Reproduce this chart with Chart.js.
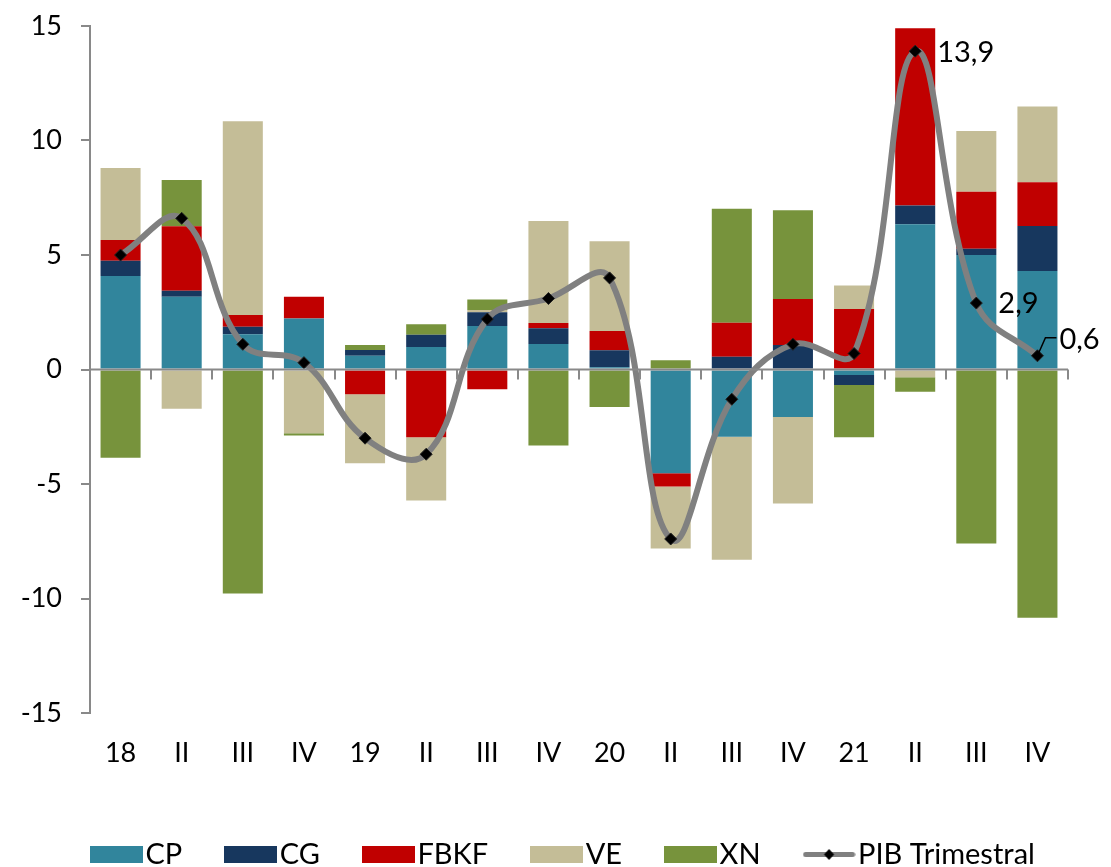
<!DOCTYPE html>
<html>
<head>
<meta charset="utf-8">
<script src="https://cdn.jsdelivr.net/npm/chart.js@4"></script>
<style>
  html, body { margin: 0; padding: 0; background: #fff; overflow: hidden; }
  #wrap { width: 1111px; height: 880px; position: relative; }
</style>
</head>
<body>
<div id="wrap"><canvas id="pibChart"></canvas></div>
<script>
// trimestres
var quarters = ["18", "II", "III", "IV", "19", "II", "III", "IV", "20", "II", "III", "IV", "21", "II", "III", "IV"];

// contribuciones por componente (puntos porcentuales)
var cp   = [4.08, 3.18, 1.54, 2.23, 0.60, 0.98, 1.90, 1.11, 0.10, -4.53, -2.94, -2.07, -0.24, 6.34, 5.00, 4.30];
var cg   = [0.67, 0.26, 0.33, 0.00, 0.25, 0.54, 0.60, 0.69, 0.74, 0.00, 0.56, 1.07, -0.44, 0.82, 0.27, 1.97];
var fbkf = [0.90, 2.82, 0.51, 0.95, -1.08, -2.96, -0.86, 0.23, 0.84, -0.58, 1.48, 2.01, 2.64, 7.74, 2.49, 1.91];
var ve   = [3.15, -1.71, 8.46, -2.78, -3.01, -2.76, 0.10, 4.45, 3.92, -2.71, -5.37, -3.78, 1.03, -0.34, 2.66, 3.30];
var xn   = [-3.85, 2.01, -9.78, -0.10, 0.22, 0.46, 0.46, -3.32, -1.64, 0.40, 4.98, 3.87, -2.28, -0.63, -7.60, -10.84];

// PIB trimestral
var pib = [5.0, 6.6, 1.1, 0.3, -3.0, -3.7, 2.2, 3.1, 4.0, -7.4, -1.3, 1.1, 0.7, 13.9, 2.9, 0.6];
var pibLabels = ["", "", "", "", "", "", "", "", "", "", "", "", "", "13,9", "2,9", "0,6"];

var yTicks = [-15, -10, -5, 0, 5, 10, 15];

var FONT = "Lato, 'Noto Sans', sans-serif";
var AXIS_GREY = "#898989";
var LEGEND_PAD = 54;

// muestra de leyenda (rectangulo de color o linea con rombo)
function makeSwatch(color, isLine) {
  var c = document.createElement("canvas");
  c.width = 53;
  c.height = 17;
  var g = c.getContext("2d");
  if (isLine) {
    g.strokeStyle = "#808080";
    g.lineWidth = 5;
    g.lineCap = "round";
    g.beginPath();
    g.moveTo(3, 8.5);
    g.lineTo(50, 8.5);
    g.stroke();
    g.fillStyle = "#000";
    g.beginPath();
    g.moveTo(26.5, 3);
    g.lineTo(31.5, 8.5);
    g.lineTo(26.5, 14);
    g.lineTo(21.5, 8.5);
    g.closePath();
    g.fill();
  } else {
    g.fillStyle = color;
    g.fillRect(0, 0, 53, 17);
  }
  return c;
}

// linea del cero con marcas entre trimestres + etiquetas del PIB
var extrasPlugin = {
  id: "extras",
  afterLayout: function (chart) {
    // la leyenda empieza alineada con el eje vertical
    chart.legend.left = chart.chartArea.left + 12 - LEGEND_PAD;
  },
  afterDatasetsDraw: function (chart) {
    var ctx = chart.ctx;
    var x = chart.scales.x;
    var y = chart.scales.y;
    var y0 = y.getPixelForValue(0);
    var n = chart.data.labels.length;
    var w = (x.right - x.left) / n;

    ctx.save();
    ctx.strokeStyle = AXIS_GREY;
    ctx.lineWidth = 2;
    ctx.beginPath();
    ctx.moveTo(x.left, y0);
    ctx.lineTo(x.right, y0);
    for (var i = 1; i <= n; i++) {
      var tx = Math.round(x.left + i * w);
      ctx.moveTo(tx, y0);
      ctx.lineTo(tx, y0 + 10);
    }
    ctx.stroke();
    ctx.restore();

    // etiquetas
    var meta = chart.getDatasetMeta(5);
    ctx.save();
    ctx.font = "29px " + FONT;
    ctx.fillStyle = "#000";
    ctx.textBaseline = "middle";
    ctx.textAlign = "left";
    pibLabels.forEach(function (txt, idx) {
      if (!txt) return;
      var pt = meta.data[idx];
      if (idx === pibLabels.length - 1) {
        ctx.strokeStyle = "#000";
        ctx.lineWidth = 1.5;
        ctx.beginPath();
        ctx.moveTo(pt.x, pt.y);
        ctx.lineTo(pt.x + 8, pt.y - 18);
        ctx.lineTo(pt.x + 19, pt.y - 18);
        ctx.stroke();
        ctx.fillText(txt, pt.x + 22, pt.y - 16);
      } else {
        ctx.fillText(txt, pt.x + 22, pt.y + 1);
      }
    });
    ctx.restore();
  }
};

var barStyle = { barPercentage: 0.655, categoryPercentage: 1.0, order: 1, borderWidth: 0 };

var datasets = [
  Object.assign({ type: "bar", label: "CP", data: cp, backgroundColor: "#31859C" }, barStyle),
  Object.assign({ type: "bar", label: "CG", data: cg, backgroundColor: "#17375E" }, barStyle),
  Object.assign({ type: "bar", label: "FBKF", data: fbkf, backgroundColor: "#C00000" }, barStyle),
  Object.assign({ type: "bar", label: "VE", data: ve, backgroundColor: "#C4BD97" }, barStyle),
  Object.assign({ type: "bar", label: "XN", data: xn, backgroundColor: "#77933C" }, barStyle),
  {
    type: "line",
    label: "PIB Trimestral",
    data: pib,
    stack: "pib",
    order: 0,
    borderColor: "#808080",
    borderWidth: 6,
    tension: 0.4,
    fill: false,
    pointStyle: "rectRot",
    pointRadius: 6,
    pointBackgroundColor: "#000",
    pointBorderColor: "#222",
    pointBorderWidth: 1
  }
];

var ctx = document.getElementById("pibChart").getContext("2d");
var chart = new Chart(ctx, {
  data: {
    labels: quarters,
    datasets: datasets
  },
  options: {
    responsive: true,
    maintainAspectRatio: false,
    animation: false,
    layout: {
      padding: { left: 0, right: 0, top: 26, bottom: 1 }
    },
    scales: {
      x: {
        stacked: true,
        grid: { display: false, drawTicks: false },
        border: { display: false },
        ticks: {
          color: "#000",
          padding: 24,
          maxRotation: 0,
          font: { family: FONT, size: 27 }
        },
        afterFit: function (scale) { scale.height = 73; }
      },
      y: {
        stacked: true,
        min: -15,
        max: 15,
        afterBuildTicks: function (scale) {
          scale.ticks = yTicks.map(function (v) { return { value: v }; });
        },
        grid: {
          display: true,
          drawOnChartArea: false,
          drawTicks: true,
          tickLength: 9,
          color: AXIS_GREY,
          lineWidth: 2
        },
        border: { display: true, color: AXIS_GREY, width: 2 },
        ticks: {
          color: "#000",
          padding: 19,
          font: { family: FONT, size: 27 }
        },
        afterFit: function (scale) {
          scale.width = 90;
          scale.paddingTop = 10;
          scale.paddingBottom = 10;
        }
      },
      // margen derecho vacio
      yRight: {
        position: "right",
        display: true,
        grid: { display: false },
        border: { display: false },
        ticks: { display: false },
        afterFit: function (scale) { scale.width = 43; }
      }
    },
    plugins: {
      tooltip: { enabled: false },
      legend: {
        display: true,
        position: "bottom",
        align: "start",
        labels: {
          usePointStyle: true,
          pointStyleWidth: 29,
          boxHeight: 17,
          padding: LEGEND_PAD,
          color: "#000",
          font: { family: FONT, size: 29 },
          generateLabels: function (chart) {
            return chart.data.datasets.map(function (ds, i) {
              return {
                text: ds.label,
                pointStyle: makeSwatch(ds.backgroundColor, ds.type === "line"),
                fillStyle: ds.backgroundColor || "#808080",
                strokeStyle: "transparent",
                lineWidth: 0,
                hidden: false,
                datasetIndex: i
              };
            });
          }
        }
      }
    }
  },
  plugins: [extrasPlugin]
});
</script>
</body>
</html>
